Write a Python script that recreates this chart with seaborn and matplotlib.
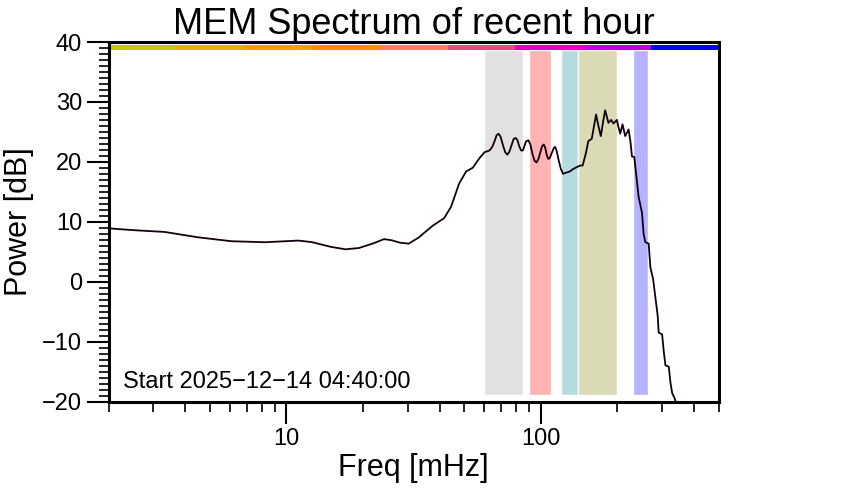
import matplotlib
matplotlib.use("Agg")
import matplotlib.pyplot as plt
import matplotlib.ticker as mticker
import seaborn as sns
import pandas as pd

# ---- data ----
freq_mhz = [2.0, 2.5, 3.32, 4.5, 6.08, 8.24, 11.15, 12.6, 15.0, 17.1, 19.3, 22.0,
            24.2, 26.0, 28.0, 30.3, 33.2, 37.5, 41.7, 44.4, 47.8, 50.9, 54.0,
            57.4, 60.1, 62.9, 64.5, 65.8, 67.0, 68.2, 69.5, 71.0, 72.5, 73.9,
            75.3, 76.8, 78.2, 79.6, 81.0, 82.3, 83.7, 85.1, 86.2, 87.5, 89.4,
            91.0, 92.8, 94.5, 96.2, 97.8, 99.5, 101.2, 102.8, 104.2, 105.5,
            107.0, 108.5, 110.8, 112.5, 113.9, 115.5, 118.0, 120.0, 122.5,
            126.0, 130.2, 134.0, 138.4, 142.0, 146.1, 150.6,
            153.8, 158.7, 162.0, 165.0, 168.5, 172.2, 176.0, 179.1, 182.0,
            184.5, 189.1, 193.1, 199.2, 202.0, 205.3, 209.6, 214.8, 221.4,
            225.0, 228.4, 233.2, 242.4, 250.0, 253.7, 257.7, 265.6, 269.7,
            276.4, 282.2, 288.2, 290.8, 300.0, 304.4, 309.1, 318.6, 323.6,
            328.6, 335.5, 345.0]
power_db = [8.9, 8.6, 8.3, 7.4, 6.75, 6.58, 6.86, 6.6, 5.8, 5.4, 5.62, 6.4,
            7.1, 6.9, 6.5, 6.35, 7.4, 9.3, 10.6, 12.5, 16.4, 18.4, 19.0,
            20.6, 21.6, 21.9, 22.5, 23.4, 24.4, 24.7, 24.2, 22.8, 21.6, 21.2,
            21.7, 22.8, 23.8, 24.0, 23.6, 22.6, 21.9, 21.9, 22.6, 23.4, 23.6,
            22.9, 21.3, 20.2, 19.9, 20.4, 21.5, 22.6, 22.9, 22.3, 21.2,
            20.5, 20.6, 21.6, 22.3, 22.5, 21.8, 20.0, 18.8, 18.0,
            18.2, 18.4, 18.8, 19.1, 19.35, 19.4, 21.5,
            23.45, 23.85, 26.0, 27.9, 26.0, 24.3, 26.8, 28.6, 27.5,
            26.5, 27.0, 26.4, 27.0, 25.8, 24.7, 26.25, 24.3, 25.4,
            23.5, 20.9, 20.8, 14.2, 11.5, 8.0, 6.6, 6.35, 2.4,
            0.47, -2.6, -5.7, -8.5, -8.8, -11.6, -13.95, -14.2, -16.9,
            -18.6, -19.4, -21.0]

# highlighted frequency bands (mHz)
band_lo = [60, 90, 120, 140, 230]
band_hi = [85, 110, 140, 200, 265]
band_colors = ["#e1e1e1", "#ffb3b3", "#b3dcdf", "#dadab4", "#b3b3ff"]

# colour strip along the top (mHz boundaries)
strip_edges = [2.0, 3.69, 6.82, 12.6, 23.3, 43.0, 79.4, 146.6, 270.8, 500.0]
strip_colors = ["#c8c800", "#e0b400", "#f5a000", "#ff8c00", "#ff7f6a",
                "#e0507a", "#e600c0", "#c000e0", "#0000ff"]

title = "MEM Spectrum of recent hour"
xlabel = "Freq [mHz]"
ylabel = "Power [dB]"
note = "Start 2025\u221212\u221214 04:40:00"

sns.set_theme(style="ticks")
plt.rcParams["font.family"] = ["Liberation Sans", "DejaVu Sans"]
plt.rcParams["text.color"] = "black"
plt.rcParams["axes.labelcolor"] = "black"
plt.rcParams["xtick.color"] = "black"
plt.rcParams["ytick.color"] = "black"
plt.rcParams["xtick.labelcolor"] = "black"
plt.rcParams["ytick.labelcolor"] = "black"

fig = plt.figure(figsize=(8.42, 5.0), dpi=100)
ax = fig.add_axes([0.1289, 0.197, 0.7245, 0.719])
ax.set_xscale("log")
ax.set_xlim(2, 500)
ax.set_ylim(-20, 40)

for lo, hi, c in zip(band_lo, band_hi, band_colors):
    ax.axvspan(lo, hi, ymin=0.0167, ymax=0.977, facecolor=c, edgecolor="white",
               linewidth=1.0, zorder=1)

for i, c in enumerate(strip_colors):
    ax.fill_between([strip_edges[i], strip_edges[i + 1]], 38.7, 39.45,
                    color=c, linewidth=0, zorder=2)

df = pd.DataFrame({"freq": freq_mhz, "power": power_db})
sns.lineplot(data=df, x="freq", y="power", ax=ax, color="#14000f",
             linewidth=1.3, zorder=3, sort=False)

ax.set_xlim(2, 500)
ax.set_ylim(-20, 40)

ax.xaxis.set_major_locator(mticker.FixedLocator([10, 100]))
ax.xaxis.set_major_formatter(mticker.FixedFormatter(["10", "100"]))
ax.xaxis.set_minor_locator(mticker.FixedLocator(
    [2, 3, 4, 5, 6, 7, 8, 9, 20, 30, 40, 50, 60, 70, 80, 90, 200, 300, 400, 500]))
ax.xaxis.set_minor_formatter(mticker.NullFormatter())
ax.yaxis.set_major_locator(mticker.MultipleLocator(10))
ax.yaxis.set_minor_locator(mticker.MultipleLocator(1))

ax.tick_params(axis="both", which="major", direction="out", length=16,
               width=1.5, color="black", labelcolor="black", labelsize=17, pad=3)
ax.tick_params(axis="both", which="minor", direction="out", length=7,
               width=1.2, color="black")

for sp in ax.spines.values():
    sp.set_visible(True)
    sp.set_linewidth(2.2)
    sp.set_color("black")

ax.set_title(title, fontsize=26, pad=4, color="black")
ax.set_xlabel(xlabel, fontsize=22, labelpad=2, color="black")
ax.set_ylabel(ylabel, fontsize=22, labelpad=6, color="black")

ax.text(0.023, 0.0375, note, transform=ax.transAxes, fontsize=17,
        ha="left", va="baseline", color="black", zorder=4)

fig.savefig("out.png", dpi=100, facecolor="white")
